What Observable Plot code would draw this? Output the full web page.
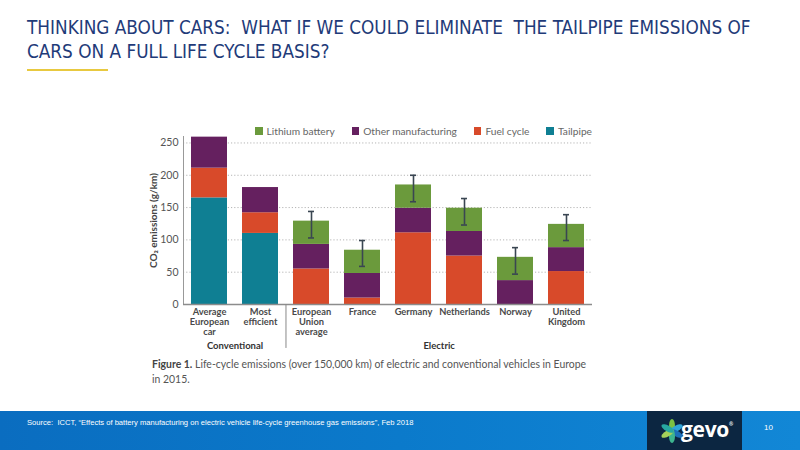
<!DOCTYPE html>
<html>
<head>
<meta charset="utf-8">
<script src="https://cdn.jsdelivr.net/npm/d3@7"></script>
<script src="https://cdn.jsdelivr.net/npm/@observablehq/plot@0.6"></script>
<style>
  html, body { margin: 0; padding: 0; background: #fff; }
  body { width: 800px; height: 450px; position: relative; overflow: hidden; font-family: Lato, "Open Sans", sans-serif; }
  .title { position: absolute; left: 27px; top: 16px; font-family: "DejaVu Sans Condensed", sans-serif; font-stretch: condensed; font-size: 18.8px; line-height: 24px; color: #1f3b79; white-space: pre; }
  .rule { position: absolute; left: 27px; top: 69px; width: 81px; height: 1.5px; background: #e8c940; }
  #chart { position: absolute; left: 150px; top: 120px; }
  .legend { position: absolute; left: 230px; top: 124px; width: 362px; display: flex; justify-content: flex-end; font-size: 10.2px; color: #666; line-height: 14px; }
  .legend span.item { display: inline-flex; align-items: center; margin-left: 17px; }
  .legend span.sw { display: inline-block; width: 7.5px; height: 7.5px; margin-right: 4px; }
  .caption { position: absolute; left: 152px; top: 357px; width: 436px; font-size: 10.45px; line-height: 15px; color: #555; }
  .caption b { color: #444; }
  .footer { position: absolute; left: 0; top: 411px; width: 800px; height: 39px; background: linear-gradient(90deg, #0a6dc0 0%, #0b7acb 50%, #1287d6 100%); }
  .source { position: absolute; left: 27px; top: 418px; font-family: "Liberation Sans", sans-serif; font-size: 7.6px; color: #fff; white-space: pre; }
  .logo { position: absolute; left: 647px; top: 411px; width: 95px; height: 39px; background: #0c2641; }
  .logo .txt { position: absolute; left: 34px; top: 4px; font-family: "Open Sans", sans-serif; font-weight: 700; font-size: 21px; color: #fff; letter-spacing: -0.3px; }
  .pageno { position: absolute; left: 764px; top: 423px; font-family: "Liberation Sans", sans-serif; font-size: 8px; color: #fff; }
</style>
</head>
<body>
<div class="title">THINKING ABOUT CARS:  WHAT IF WE COULD ELIMINATE  THE TAILPIPE EMISSIONS OF
CARS ON A FULL LIFE CYCLE BASIS?</div>
<div class="rule"></div>
<div id="chart"></div>
<div class="legend" id="legend"></div>
<div class="caption"><b>Figure 1.</b> Life-cycle emissions (over 150,000 km) of electric and conventional vehicles in Europe in 2015.</div>
<div class="footer"></div>
<div class="source">Source:  ICCT, “Effects of battery manufacturing on electric vehicle life-cycle greenhouse gas emissions”, Feb 2018</div>
<div class="logo">
  <svg width="30" height="39" style="position:absolute;left:10px;top:0">
    <g transform="translate(15,20)">
      <ellipse rx="3" ry="7" transform="rotate(0) translate(0,-5)" fill="#7cc242"/>
      <ellipse rx="3" ry="7" transform="rotate(60) translate(0,-5)" fill="#2fa5d8"/>
      <ellipse rx="3" ry="7" transform="rotate(120) translate(0,-5)" fill="#1d6fb8"/>
      <ellipse rx="3" ry="7" transform="rotate(180) translate(0,-5)" fill="#3db58f"/>
      <ellipse rx="3" ry="7" transform="rotate(240) translate(0,-5)" fill="#a5d05a"/>
      <ellipse rx="3" ry="7" transform="rotate(300) translate(0,-5)" fill="#27a7a0"/>
    </g>
  </svg>
  <div class="txt">gevo<span style="font-size:5px;vertical-align:top;position:relative;top:6px;">®</span></div>
</div>
<div class="pageno">10</div>
<script>
// ---- data ----
const categories = ["Average European car", "Most efficient", "European Union average", "France", "Germany", "Netherlands", "Norway", "United Kingdom"];
const tickLabels = ["Average\nEuropean\ncar", "Most\nefficient", "European\nUnion\naverage", "France", "Germany", "Netherlands", "Norway", "United\nKingdom"];
const stackOrder = ["Tailpipe", "Fuel cycle", "Other manufacturing", "Lithium battery"];
const legendOrder = ["Lithium battery", "Other manufacturing", "Fuel cycle", "Tailpipe"];
const legendColors = ["#6b9a3c", "#65205f", "#d84a2a", "#0f7f93"];
const tailpipe = [165, 110, 0, 0, 0, 0, 0, 0];
const fuelCycle = [46, 32, 55, 10, 111, 75, 0, 51];
const otherManufacturing = [48, 39, 38, 38, 38, 38, 37, 37];
const lithiumBattery = [0, 0, 36, 36, 36, 36, 36, 36];
const errLow = [null, null, 103, 59, 159, 123, 47, 99];
const errHigh = [null, null, 144, 99, 200, 164, 88, 139];
const yTicks = [0, 50, 100, 150, 200, 250];
const groups = ["Conventional", "Electric"];
const groupFrom = [0, 2];
const groupTo = [1, 7];

// ---- tidy table ----
const series = {"Tailpipe": tailpipe, "Fuel cycle": fuelCycle, "Other manufacturing": otherManufacturing, "Lithium battery": lithiumBattery};
const rows = [];
categories.forEach((c, i) => stackOrder.forEach(s => rows.push({category: c, component: s, value: series[s][i]})));
const errs = categories.map((c, i) => ({category: c, lo: errLow[i], hi: errHigh[i]})).filter(d => d.lo != null);

const W = 460, H = 240, mL = 33, mR = 18, pIn = 0.29, pOut = 0.15;
const step = (W - mL - mR) / (categories.length - pIn + 2 * pOut);
const groupMarks = groups.map((g, i) =>
  Plot.text([g], {x: () => categories[groupFrom[i]], y: () => 0, dx: (groupTo[i] - groupFrom[i]) * step / 2, dy: 41, fontSize: 9.5, fontWeight: 700, fill: "#333"})
);

const chart = Plot.plot({
  width: W, height: H,
  marginLeft: mL, marginRight: mR, marginTop: 16, marginBottom: 56,
  style: {fontFamily: "Lato, sans-serif", background: "transparent", overflow: "visible"},
  x: {domain: categories, paddingInner: pIn, paddingOuter: pOut, axis: null},
  y: {domain: [0, 260], axis: null},
  color: {domain: legendOrder, range: legendColors},
  marks: [
    Plot.gridY(yTicks.filter(d => d > 0), {stroke: "#b5b5b5", strokeOpacity: 1, strokeDasharray: "1.2,2"}),
    Plot.axisY(yTicks, {tickSize: 0, tickPadding: 5, fontSize: 10.5, fill: "#555", label: null}),
    Plot.text(["CO₂ emissions (g/km)"], {frameAnchor: "left", rotate: -90, textAnchor: "middle", dx: -30, fontSize: 10, fontWeight: 700, fill: "#444"}),
    Plot.barY(rows, {x: "category", y: "value", fill: "component", order: stackOrder}),
    Plot.ruleX(errs, {x: "category", y1: "lo", y2: "hi", stroke: "#3a4652", strokeWidth: 1.6}),
    Plot.tickY(errs, {x: "category", y: "lo", stroke: "#3a4652", strokeWidth: 1.6, inset: 15}),
    Plot.tickY(errs, {x: "category", y: "hi", stroke: "#3a4652", strokeWidth: 1.6, inset: 15}),
    Plot.frame({anchor: "left", stroke: "#999"}),
    Plot.ruleY([0], {stroke: "#8c8c8c", strokeWidth: 1.5}),
    Plot.ruleX([categories[2]], {dx: -step / 2, y1: 0, y2: -68, stroke: "#888"}),
    Plot.text(categories, {x: d => d, y: () => 0, text: (d, i) => tickLabels[i], lineAnchor: "top", dy: 4, fontSize: 9.3, fontWeight: 700, fill: "#4a4a4a", lineHeight: 1.05}),
    ...groupMarks
  ]
});
document.getElementById("chart").appendChild(chart);

// legend from the color scale
const color = chart.scale("color");
const lg = document.getElementById("legend");
color.domain.forEach((d, i) => {
  const it = document.createElement("span"); it.className = "item";
  const sw = document.createElement("span"); sw.className = "sw"; sw.style.background = color.range[i];
  it.appendChild(sw); it.appendChild(document.createTextNode(d));
  lg.appendChild(it);
});
</script>
</body>
</html>
